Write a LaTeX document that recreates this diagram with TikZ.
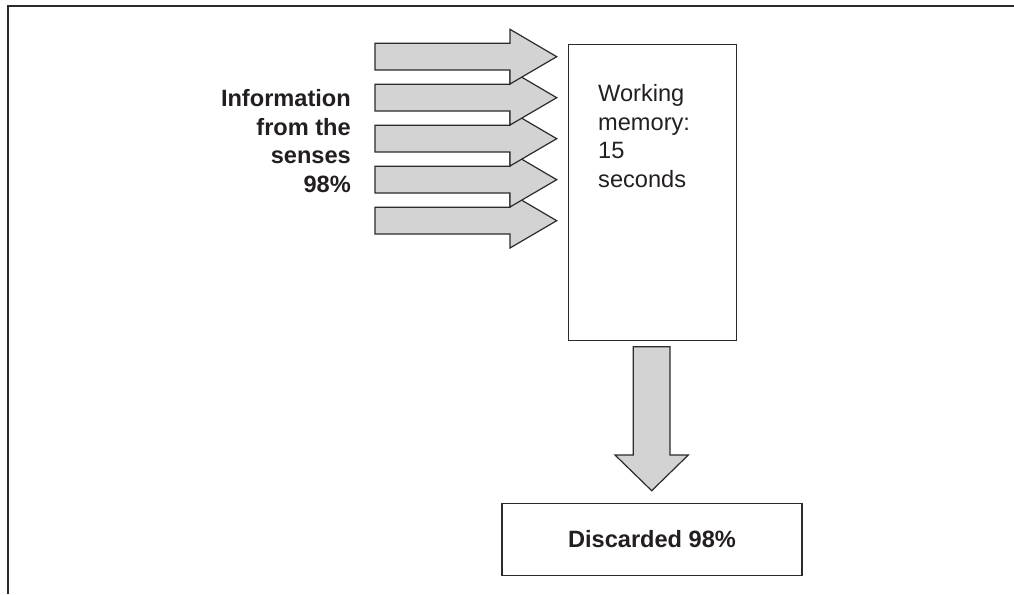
\documentclass[tikz,border=0pt]{standalone}
\usepackage{fontspec}
\setmainfont{Liberation Sans}
\begin{document}
\begin{tikzpicture}[x=1pt,y=-1pt,line join=miter]
\definecolor{ink}{HTML}{231F20}
\definecolor{edgecol}{HTML}{2B2B2B}
\definecolor{arrowfill}{HTML}{D3D3D3}
\tikzset{
  blockarrow/.style={draw=edgecol,fill=arrowfill,line width=1.2pt},
  boxstyle/.style={draw=edgecol,line width=1.2pt,fill=white,inner sep=0pt},
  txt/.style={text=ink,inner sep=0pt,font=\fontsize{23.6}{28.5}\selectfont},
  txtbold/.style={text=ink,inner sep=0pt,font=\fontsize{23.6}{28.5}\selectfont\bfseries},
}
\useasboundingbox (0,0) rectangle (1014,594);
% frame
\draw[edgecol,line width=2pt] (7.5,594) -- (7.5,6.5) -- (1014,6.5);
% input arrows (lower ones first, upper ones on top)
\foreach \i in {4,3,2,1,0}{
  \draw[blockarrow,shift={(0,41*\i)}] (375,43.3) -- (510,43.3) -- (510,29.3) -- (556.7,56.7) -- (510,84) -- (510,70) -- (375,70) -- cycle;
}
% working memory
\node[boxstyle,anchor=north west,minimum width=168.5pt,minimum height=296pt] (wm) at (567.5,44) {};
\node[txt,anchor=north west,align=left] (wmtext) at (598,84.5) {Working\\memory:\\15\\seconds};
% info text
\node[txtbold,anchor=north east,align=right] (info) at (351,89.5) {Information\\from the\\senses\\98\%};
% discarded
\node[boxstyle,txtbold,minimum width=300pt,minimum height=72.4pt] (disc) at (652,539.5) {Discarded 98\%};
% down arrow
\draw[blockarrow] (633.3,346.7) -- (670,346.7) -- (670,455) -- (688.3,455) -- (651.7,490.7) -- (615,455) -- (633.3,455) -- cycle;
\end{tikzpicture}
\end{document}
